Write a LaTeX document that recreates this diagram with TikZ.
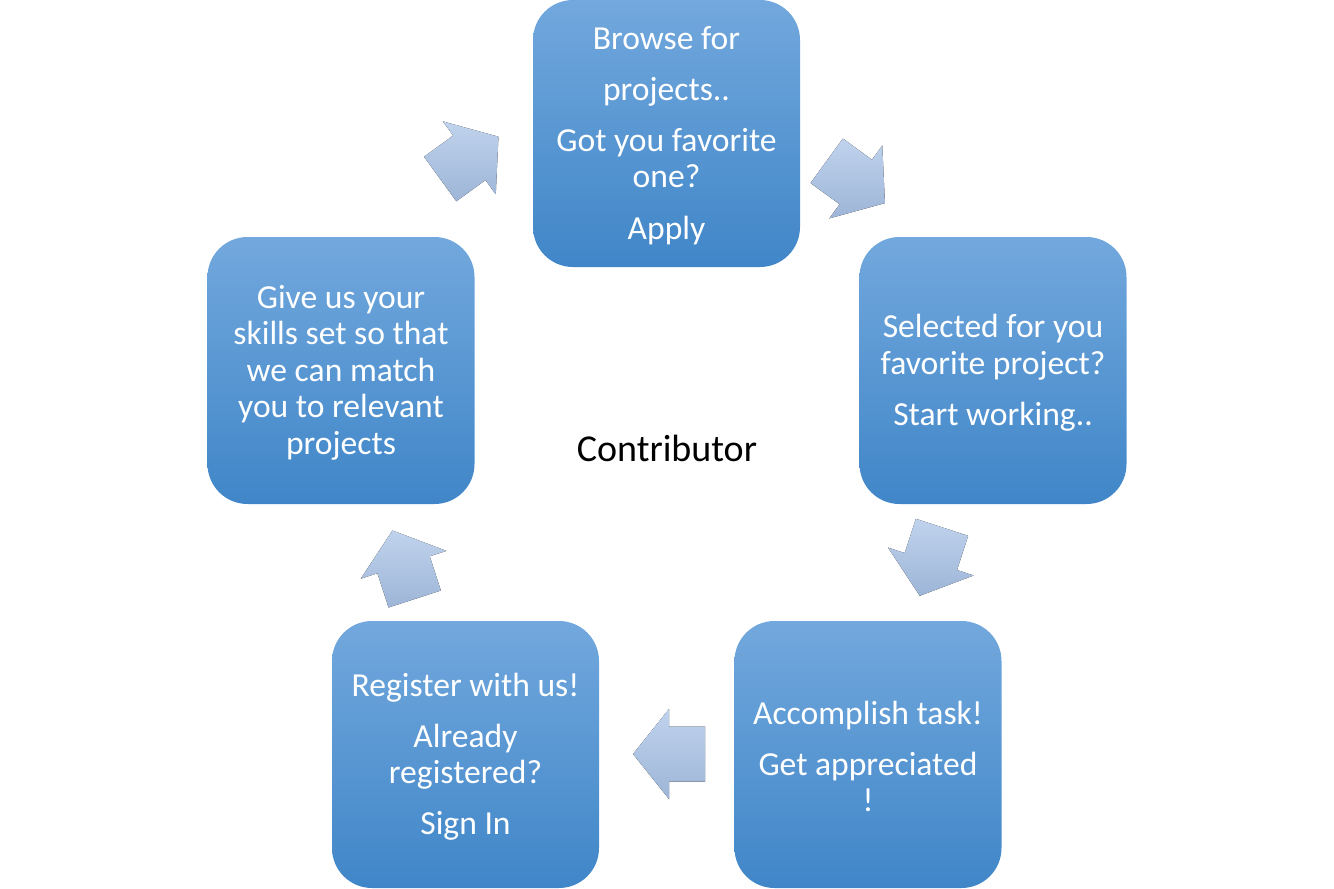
\documentclass[tikz,border=0pt]{standalone}
\usepackage{fontspec}
\setmainfont{Carlito}
\usetikzlibrary{calc}
\tikzset{
  stagebox/.style={rounded corners=40pt, minimum width=267pt, minimum height=267pt,
    top color=boxtop, bottom color=boxbot, draw=none, text=white, align=center,
    font=\fontsize{33.6}{36.5}\selectfont, inner sep=0pt},
  cyclefill/.style={top color=arrtop, bottom color=arrbot, draw=none},
  centerlabel/.style={font=\fontsize{38}{42}\selectfont, text=black}
}
\definecolor{boxtop}{RGB}{114,168,221}
\definecolor{boxbot}{RGB}{64,134,200}
\definecolor{arrtop}{RGB}{192,211,237}
\definecolor{arrbot}{RGB}{157,181,215}
\newcommand\cyclearrow[2]{%
  \fill[cyclefill] ($(#1)+({#2+90}:27.5)$) -- ($(#1)+(#2:36)+({#2+90}:27.5)$)
    -- ($(#1)+(#2:36)+({#2+90}:45)$) -- ($(#1)+(#2:72)$)
    -- ($(#1)+(#2:36)+({#2-90}:45)$) -- ($(#1)+(#2:36)+({#2-90}:27.5)$)
    -- ($(#1)+({#2-90}:27.5)$) -- cycle;}
\begin{document}
\begin{tikzpicture}[x=1pt,y=-1pt]
\useasboundingbox (0,0) rectangle (1334,889);
\node[stagebox] (browse) at (666.5,133.5) {};
\node[text=white, align=center, font=\fontsize{33.6}{36.5}\selectfont, inner sep=0pt] (browsetxt) at (666.5,135.5) {Browse for\\[14.5pt]projects..\\[14.5pt]Got you favorite\\one?\\[15pt]Apply};
\node[stagebox] (select) at (993,370.5) {};
\node[text=white, align=center, font=\fontsize{33.6}{36.5}\selectfont, inner sep=0pt] (selecttxt) at (993,372.5) {Selected for you\\favorite project?\\[14.5pt]Start working..};
\node[stagebox] (accomp) at (868,754.5) {};
\node[text=white, align=center, font=\fontsize{33.6}{36.5}\selectfont, inner sep=0pt] (accomptxt) at (868,756.5) {Accomplish task!\\[14.5pt]Get appreciated\\!};
\node[stagebox] (register) at (465.5,754.5) {};
\node[text=white, align=center, font=\fontsize{33.6}{36.5}\selectfont, inner sep=0pt] (registertxt) at (465.5,756.5) {Register with us!\\[14.5pt]Already\\registered?\\[14.5pt]Sign In};
\node[stagebox] (skills) at (341,370.5) {};
\node[text=white, align=center, font=\fontsize{33.6}{36.5}\selectfont, inner sep=0pt] (skillstxt) at (341,372.5) {Give us your\\skills set so that\\we can match\\you to relevant\\projects};
\node[centerlabel] (contrib) at (667,448) {Contributor};
\coordinate (a1) at (826.7,160.8);
\coordinate (a2) at (942,527.3);
\coordinate (a3) at (705,754);
\coordinate (a4) at (414.7,599);
\coordinate (a5) at (440.2,179);
\cyclearrow{a1}{36}
\cyclearrow{a2}{108}
\cyclearrow{a3}{180}
\cyclearrow{a4}{252}
\cyclearrow{a5}{-36}
\end{tikzpicture}
\end{document}
